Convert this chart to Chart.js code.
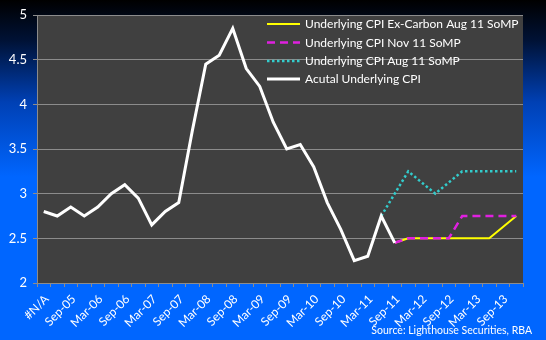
<!DOCTYPE html>
<html>
<head>
<meta charset="utf-8">
<script src="https://cdn.jsdelivr.net/npm/chart.js@4/dist/chart.umd.min.js"></script>
<style>
  html, body { margin: 0; padding: 0; background: #000; }
  canvas { display: block; }
</style>
</head>
<body>
<canvas id="cpiChart" width="546" height="340"></canvas>
<script>
// quarterly categories, only every second one gets a label on the axis
const categories = [
  '#N/A', 'Jun-05', 'Sep-05', 'Dec-05', 'Mar-06', 'Jun-06', 'Sep-06', 'Dec-06',
  'Mar-07', 'Jun-07', 'Sep-07', 'Dec-07', 'Mar-08', 'Jun-08', 'Sep-08', 'Dec-08',
  'Mar-09', 'Jun-09', 'Sep-09', 'Dec-09', 'Mar-10', 'Jun-10', 'Sep-10', 'Dec-10',
  'Mar-11', 'Jun-11', 'Sep-11', 'Dec-11', 'Mar-12', 'Jun-12', 'Sep-12', 'Dec-12',
  'Mar-13', 'Jun-13', 'Sep-13', 'Dec-13'
];

const actualCpi = [
  2.8, 2.75, 2.85, 2.75, 2.85, 3.0, 3.1, 2.95, 2.65, 2.8, 2.9, 3.7,
  4.45, 4.55, 4.85, 4.4, 4.2, 3.8, 3.5, 3.55, 3.3, 2.9, 2.6, 2.25,
  2.3, 2.75, 2.45, null, null, null, null, null, null, null, null, null
];

const exCarbonAug11 = [
  null, null, null, null, null, null, null, null, null, null, null, null,
  null, null, null, null, null, null, null, null, null, null, null, null,
  null, null, 2.45, 2.5, 2.5, 2.5, 2.5, 2.5, 2.5, 2.5, null, 2.75
];

const sompNov11 = [
  null, null, null, null, null, null, null, null, null, null, null, null,
  null, null, null, null, null, null, null, null, null, null, null, null,
  null, null, 2.45, 2.5, 2.5, 2.5, 2.5, 2.75, 2.75, 2.75, 2.75, 2.75
];

const sompAug11 = [
  null, null, null, null, null, null, null, null, null, null, null, null,
  null, null, null, null, null, null, null, null, null, null, null, null,
  null, 2.75, null, 3.25, null, 3.0, null, 3.25, 3.25, 3.25, 3.25, 3.25
];

const yTicks = [2, 2.5, 3, 3.5, 4, 4.5, 5];

const FONT = 'Lato, "Open Sans", sans-serif';

// background gradient + dark plot area
const backdrop = {
  id: 'backdrop',
  beforeDraw(chart) {
    const { ctx, width, height, chartArea } = chart;
    ctx.save();
    const g = ctx.createLinearGradient(0, 0, 0, height);
    g.addColorStop(0, '#000000');
    g.addColorStop(0.12, '#001236');
    g.addColorStop(0.3, '#0040b4');
    g.addColorStop(0.52, '#0066ff');
    g.addColorStop(1, '#0066ff');
    ctx.fillStyle = g;
    ctx.fillRect(0, 0, width, height);
    ctx.fillStyle = '#404040';
    ctx.fillRect(chartArea.left, chartArea.top,
      chartArea.right - chartArea.left, chartArea.bottom - chartArea.top);
    ctx.restore();
  }
};

// legend inside the plot, plus the source note
const overlay = {
  id: 'overlay',
  afterDraw(chart) {
    const { ctx } = chart;
    ctx.save();
    ctx.font = '12px ' + FONT;
    ctx.textBaseline = 'middle';
    const rows = [24, 42.5, 61, 79];
    chart.data.datasets.forEach((ds, i) => {
      const y = rows[i];
      ctx.beginPath();
      ctx.strokeStyle = ds.borderColor;
      ctx.lineWidth = ds.borderWidth;
      ctx.setLineDash(ds.borderDash || []);
      ctx.moveTo(267, y);
      ctx.lineTo(300, y);
      ctx.stroke();
      ctx.setLineDash([]);
      ctx.fillStyle = '#ffffff';
      ctx.textAlign = 'left';
      ctx.fillText(ds.label, 305, y + 0.5);
    });
    ctx.font = '10.5px ' + FONT;
    ctx.textAlign = 'right';
    ctx.fillText('Source: Lighthouse Securities, RBA', 532, 331);
    ctx.restore();
  }
};

new Chart(document.getElementById('cpiChart'), {
  type: 'line',
  data: {
    labels: categories,
    datasets: [
      {
        label: 'Underlying CPI Ex-Carbon Aug 11 SoMP',
        data: exCarbonAug11,
        borderColor: '#ffff00',
        borderWidth: 2,
        order: 2
      },
      {
        label: 'Underlying CPI Nov 11 SoMP',
        data: sompNov11,
        borderColor: '#e020e0',
        borderWidth: 2.5,
        borderDash: [8, 5],
        order: 1
      },
      {
        label: 'Underlying CPI Aug 11 SoMP',
        data: sompAug11,
        borderColor: '#33cccc',
        borderWidth: 2.5,
        borderDash: [2.5, 2.5],
        order: 3
      },
      {
        label: 'Acutal Underlying CPI',
        data: actualCpi,
        borderColor: '#ffffff',
        borderWidth: 3,
        order: 0
      }
    ]
  },
  options: {
    responsive: false,
    animation: false,
    spanGaps: true,
    elements: {
      point: { radius: 0 },
      line: { tension: 0, borderCapStyle: 'butt', borderJoinStyle: 'miter' }
    },
    layout: { padding: { top: 15, right: 23, left: 0, bottom: 0 } },
    plugins: {
      legend: { display: false },
      tooltip: { enabled: false }
    },
    scales: {
      x: {
        offset: true,
        grid: {
          offset: true,
          drawOnChartArea: false,
          drawTicks: true,
          tickLength: 4,
          color: '#8c8c8c'
        },
        border: { color: '#8c8c8c' },
        ticks: {
          autoSkip: false,
          minRotation: 45,
          maxRotation: 45,
          padding: 5,
          labelOffset: 3,
          color: '#ffffff',
          font: { family: FONT, size: 12 },
          callback: function (value, index) {
            return index % 2 === 0 ? categories[index] : '';
          }
        },
        afterFit(scale) { scale.height = 57; }
      },
      y: {
        min: 2,
        max: 5,
        afterBuildTicks(scale) {
          scale.ticks = yTicks.map(v => ({ value: v }));
        },
        grid: {
          color: '#8c8c8c',
          drawTicks: true,
          tickLength: 4
        },
        border: { color: '#8c8c8c' },
        ticks: {
          padding: 6,
          color: '#ffffff',
          font: { family: FONT, size: 13 },
          callback: v => String(v)
        },
        afterFit(scale) { scale.width = 37; }
      }
    }
  },
  plugins: [backdrop, overlay]
});
</script>
</body>
</html>
